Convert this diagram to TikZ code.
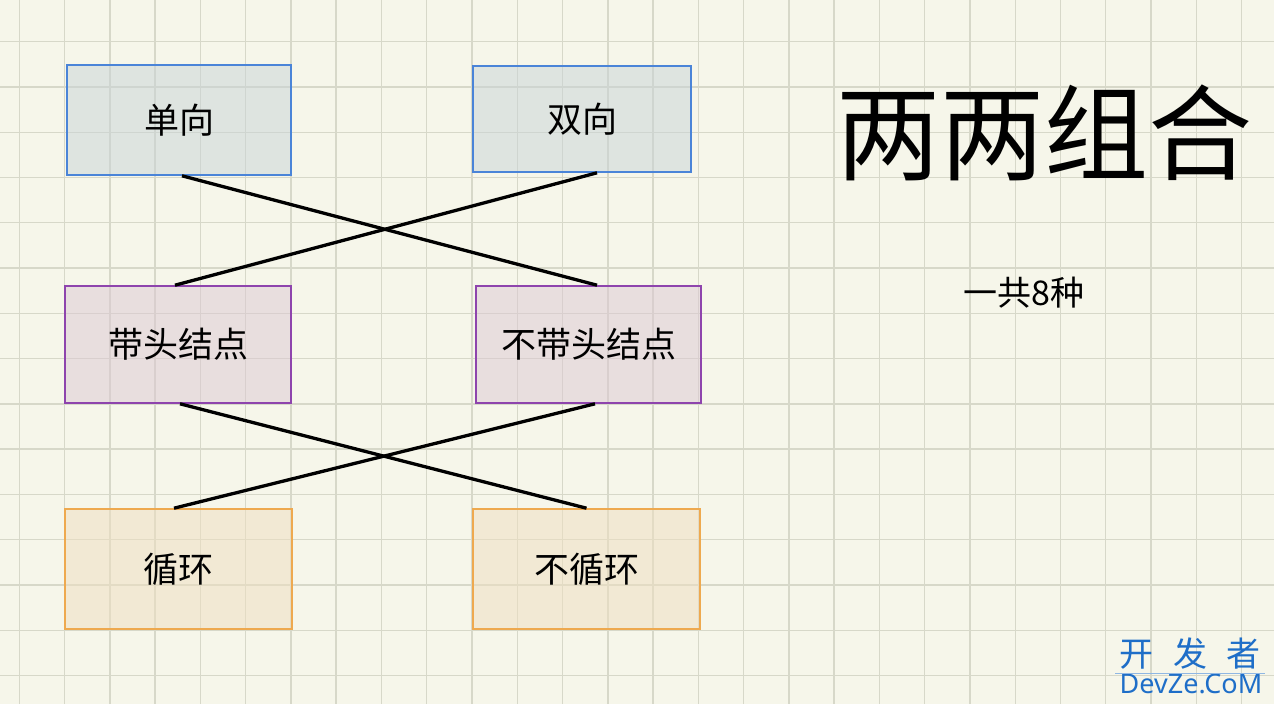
\documentclass[tikz,border=0pt]{standalone}
\usepackage{fontspec}
\setmainfont{Noto Sans CJK SC}
\newfontfamily\latinfont{Noto Sans}
\definecolor{paper}{RGB}{246,246,234}
\definecolor{gridgray}{RGB}{215,216,201}
\definecolor{bluefill}{RGB}{200,212,216}
\definecolor{blueline}{RGB}{74,132,216}
\definecolor{purplefill}{RGB}{220,200,212}
\definecolor{purpleline}{RGB}{142,68,173}
\definecolor{orangefill}{RGB}{240,222,192}
\definecolor{orangeline}{RGB}{238,169,79}
\definecolor{markblue}{RGB}{30,110,200}
\tikzset{
  gridline/.style={gridgray, line width=1.4pt},
  box/.style={rectangle, draw, line width=1.6pt, inner sep=0pt, fill opacity=0.5, text opacity=1, draw opacity=1, font=\fontsize{35}{40}\selectfont},
  bluebox/.style={box, draw=blueline, fill=bluefill},
  purplebox/.style={box, draw=purpleline, fill=purplefill},
  orangebox/.style={box, draw=orangeline, fill=orangefill},
  cross/.style={black, line width=3.3pt}
}
\begin{document}
\begin{tikzpicture}[x=1pt, y=-1pt]
    \fill[paper] (0,0) rectangle (1274,704);
    \useasboundingbox (0,0) rectangle (1274,704);
    \foreach \i in {0,...,27} \draw[gridline] ({19.3+45.27*\i},0) -- ({19.3+45.27*\i},704);
    \foreach \j in {0,...,14} \draw[gridline] (0,{41.7+45.27*\j}) -- (1274,{41.7+45.27*\j});
    \node [bluebox, minimum width=224pt, minimum height=110pt] (dan) at (179,120) {单向};
    \node [bluebox, minimum width=218pt, minimum height=106pt] (shuang) at (582,119) {双向};
    \node [purplebox, minimum width=226pt, minimum height=117pt] (dai) at (178,344.5) {带头结点};
    \node [purplebox, minimum width=225pt, minimum height=117pt] (budai) at (588.5,344.5) {不带头结点};
    \node [orangebox, minimum width=227pt, minimum height=120pt] (xun) at (178.5,569) {循环};
    \node [orangebox, minimum width=227pt, minimum height=120pt] (buxun) at (586.5,569) {不循环};
    \draw[cross] ([xshift=3pt]dan.south) -- ([xshift=8.5pt]budai.north);
    \draw[cross] ([xshift=15pt]shuang.south) -- ([xshift=-3pt]dai.north);
    \draw[cross] ([xshift=2pt]dai.south) -- (buxun.north);
    \draw[cross] ([xshift=6.5pt]budai.south) -- ([xshift=-4.5pt]xun.north);
    \node [font=\fontsize{104}{110}\selectfont] (title) at (1044,133) {两两组合};
    \node [font=\fontsize{34}{40}\selectfont] (count) at (1024,293) {一共8种};
    % watermark
    \node [markblue, font=\fontsize{34}{40}\selectfont] (mark) at (1190,654) {开\hspace{20pt}发\hspace{20pt}者};
    \node [markblue, font=\latinfont\fontsize{27}{30}\selectfont] (site) at (1191,684) {DevZe.CoM};
    \draw[markblue!50, line width=1pt] (mark.south west) -- (mark.south east);
  \end{tikzpicture}
\end{document}
